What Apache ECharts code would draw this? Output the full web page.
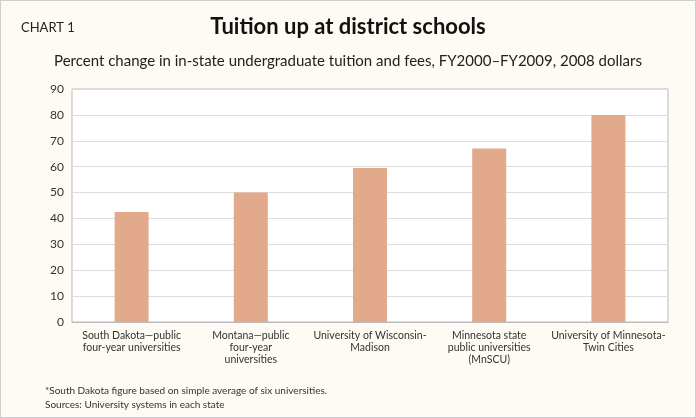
<!DOCTYPE html>
<html>
<head><meta charset="utf-8"></head>
<body style="margin:0;background:#fdfbf3;">
<div id="container" style="width:696px;height:418px;box-sizing:border-box;border:1px solid #cfcfcf;"></div>
<script src="https://cdn.jsdelivr.net/npm/echarts@6/dist/echarts.min.js"></script>
<script>
var categories = ['South Dakota\u2014public\nfour-year universities', 'Montana\u2014public\nfour-year\nuniversities', 'University of Wisconsin-\nMadison', 'Minnesota state\npublic universities\n(MnSCU)', 'University of Minnesota-\nTwin Cities'];
var values = [42.5, 50, 59.5, 67, 80];

var chart = echarts.init(document.getElementById('container'));
var font = 'Lato, "Open Sans", sans-serif';
chart.setOption({
    backgroundColor: '#fdfbf3',
    animation: false,
    graphic: [
        { type: 'text', left: 20, top: 20, style: { text: 'CHART 1', font: '13px ' + font, fill: '#222' } },
        { type: 'text', left: 'center', top: 15, style: { text: 'Tuition up at district schools', font: 'bold 22px ' + font, fill: '#111' } },
        { type: 'text', left: 'center', top: 53, style: { text: 'Percent change in in-state undergraduate tuition and fees, FY2000\u2013FY2009, 2008 dollars', font: '15px ' + font, fill: '#222' } },
        { type: 'text', left: 44, top: 383, style: { text: '*South Dakota figure based on simple average of six universities.\nSources: University systems in each state', font: '10px ' + font, fill: '#333', lineHeight: 14 } }
    ],
    grid: { left: 71, right: 27, top: 88, bottom: 95, show: true, borderColor: '#bbb', backgroundColor: '#fff' },
    xAxis: {
        type: 'category', data: categories,
        axisLine: { lineStyle: { color: '#bbb' } }, axisTick: { show: false },
        axisLabel: { color: '#333', fontSize: 10.5, fontFamily: font, lineHeight: 12, interval: 0 }
    },
    yAxis: {
        type: 'value', min: 0, max: 90, interval: 10,
        axisLabel: { color: '#333', fontSize: 12, fontFamily: font },
        splitLine: { lineStyle: { color: '#ddd' } }
    },
    series: [{ type: 'bar', data: values, barWidth: 34, itemStyle: { color: '#e2aa8b' } }]
});
</script>
</body>
</html>
